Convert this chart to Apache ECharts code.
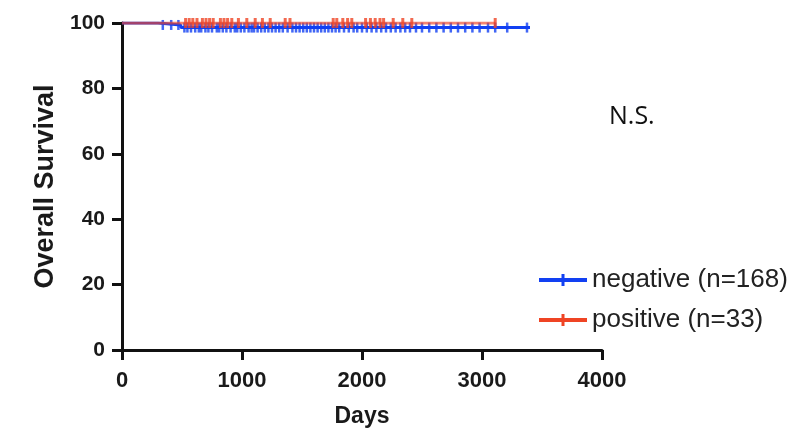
<!DOCTYPE html>
<html>
<head>
<meta charset="utf-8">
<script src="https://cdn.jsdelivr.net/npm/echarts@6/dist/echarts.min.js"></script>
<style>html,body{margin:0;padding:0;background:#fff}#c{width:795px;height:433px}</style>
</head>
<body>
<div id="c"></div>
<script>
// Kaplan-Meier step points [days, survival %]
const negativeSteps = [[0, 100], [300, 100], [300, 99.4], [490, 99.4], [490, 98.6], [3400, 98.6]];
const positiveSteps = [[0, 100], [3110, 100]];
// Censored observation times (days)
const negativeCensored = [340, 410, 470, 520, 545, 575, 610, 640, 660, 695, 720, 750, 790, 810, 840, 870, 905, 940, 960, 990, 1020, 1055, 1080, 1100, 1130, 1160, 1190, 1220, 1250, 1280, 1310, 1340, 1380, 1420, 1450, 1480, 1510, 1540, 1570, 1600, 1630, 1660, 1690, 1720, 1750, 1780, 1810, 1850, 1890, 1930, 1960, 2000, 2040, 2080, 2120, 2160, 2200, 2240, 2280, 2320, 2360, 2400, 2450, 2500, 2560, 2620, 2680, 2740, 2800, 2860, 2920, 2980, 3050, 3110, 3210, 3375];
const positiveCensored = [530, 560, 590, 625, 670, 700, 730, 760, 820, 850, 880, 915, 970, 1040, 1110, 1170, 1235, 1360, 1400, 1760, 1790, 1840, 1880, 1915, 2030, 2070, 2110, 2150, 2180, 2260, 2340, 2415, 3110];
const xTicks = [0, 1000, 2000, 3000, 4000];
const yTicks = [0, 20, 40, 60, 80, 100];
const seriesNames = ['negative (n=168)', 'positive (n=33)'];

function survivalAt(steps, t) {
  let v = steps[0][1];
  for (const [d, s] of steps) { if (d <= t) v = s; }
  return v;
}
const negTicks = negativeCensored.map(t => [t, survivalAt(negativeSteps, t)]);
const posTicks = positiveCensored.map(t => [t, survivalAt(positiveSteps, t)]);

const BLUE = '#1240f2';
const RED = '#ef4424';
const legendIcon = 'path://M0,4 L48,4 L48,8 L0,8 Z M22.5,0 L25.5,0 L25.5,12 L22.5,12 Z';

const chart = echarts.init(document.getElementById('c'), null, {renderer: 'canvas'});
chart.setOption({
  animation: false,
  backgroundColor: '#fff',
  grid: {left: 122, right: 193, top: 23, bottom: 81, containLabel: false},
  xAxis: {
    type: 'value', min: 0, max: 4000, interval: 1000,
    name: 'Days', nameLocation: 'middle', nameGap: 55,
    nameTextStyle: {fontFamily: 'Liberation Sans', fontWeight: 'bold', fontSize: 23, color: '#1a1a1a'},
    axisLine: {show: true, lineStyle: {color: '#111', width: 3}},
    axisTick: {show: true, length: 10, lineStyle: {color: '#111', width: 3}},
    axisLabel: {fontFamily: 'Liberation Sans', fontWeight: 'bold', fontSize: 22, color: '#1a1a1a', margin: 20,
      formatter: v => xTicks.includes(v) ? String(v) : ''},
    splitLine: {show: false}
  },
  yAxis: {
    type: 'value', min: 0, max: 100, interval: 20,
    name: 'Overall Survival', nameLocation: 'middle', nameGap: 63, nameRotate: 90,
    nameTextStyle: {fontFamily: 'Liberation Sans', fontWeight: 'bold', fontSize: 27, color: '#1a1a1a'},
    axisLine: {show: true, lineStyle: {color: '#111', width: 3}},
    axisTick: {show: true, length: 10, lineStyle: {color: '#111', width: 3}},
    axisLabel: {fontFamily: 'Liberation Sans', fontWeight: 'bold', fontSize: 21, color: '#1a1a1a', margin: 17,
      formatter: v => yTicks.includes(v) ? String(v) : ''},
    splitLine: {show: false}
  },
  legend: {
    left: 534, top: 262, orient: 'vertical', itemGap: 14,
    itemWidth: 48, itemHeight: 12,
    textStyle: {fontFamily: 'Liberation Sans', fontSize: 26, color: '#222'},
    data: [
      {name: seriesNames[0], icon: legendIcon},
      {name: seriesNames[1], icon: legendIcon}
    ]
  },
  graphic: [{
    type: 'text', left: 609, top: 104,
    style: {text: 'N.S.', fontFamily: 'Open Sans', fontSize: 25, fill: '#111'}
  }],
  series: [
    {
      name: seriesNames[0], type: 'line', data: negativeSteps, showSymbol: false,
      lineStyle: {color: BLUE, width: 3}, itemStyle: {color: BLUE}, z: 2
    },
    {
      name: seriesNames[0], type: 'scatter', data: negTicks, symbol: 'rect', symbolSize: [2.5, 10],
      itemStyle: {color: BLUE}, z: 2
    },
    {
      name: seriesNames[1], type: 'line', data: positiveSteps, showSymbol: false,
      lineStyle: {color: RED, width: 3, opacity: 0.65}, itemStyle: {color: RED}, z: 3
    },
    {
      name: seriesNames[1], type: 'scatter', data: posTicks, symbol: 'rect', symbolSize: [3, 10],
      itemStyle: {color: RED}, z: 3
    }
  ]
});
</script>
</body>
</html>
